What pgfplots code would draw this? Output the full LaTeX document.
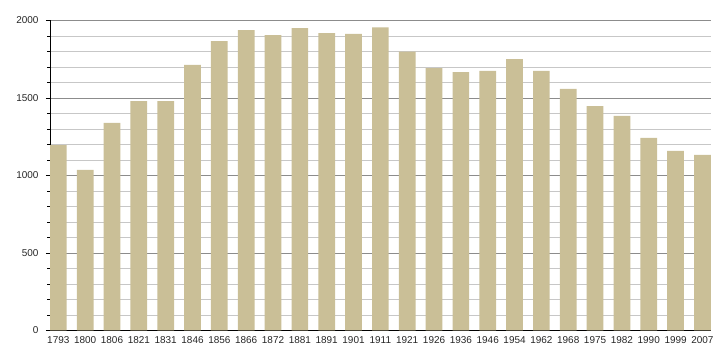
\documentclass[border=0pt]{standalone}
\usepackage{pgfplots}
\pgfplotsset{compat=1.18}
\usepackage{fontspec}
\setmainfont{Liberation Sans}
\definecolor{barc}{RGB}{202,191,151}
\begin{document}
\begin{tikzpicture}
\begin{axis}[
  scale only axis, width=661bp, height=310bp,
  xmin=-0.31, xmax=24.32, ymin=0, ymax=2000,
  axis x line*=bottom, axis y line*=left,
  axis line style={black, line width=0.7pt},
  ytick={0,500,...,2000}, minor ytick={0,100,...,2000},
  ymajorgrids, yminorgrids,
  major grid style={black!45, line width=0.6pt},
  minor grid style={black!22, line width=0.6pt},
  xtick={0,...,24},
  xticklabels={1793,1800,1806,1821,1831,1846,1856,1866,1872,1881,1891,1901,1911,1921,1926,1936,1946,1954,1962,1968,1975,1982,1990,1999,2007},
  x tick style={draw=none},
  y tick style={black, line width=0.6pt},
  tick align=outside, major tick length=4bp, minor tick length=2.5bp,
  tick label style={font=\fontsize{10}{11}\selectfont, text=black!85},
  /pgf/number format/assume math mode=true,
  yticklabel style={/pgf/number format/1000 sep={}, xshift=-4bp},
  xticklabel style={yshift=1bp},
]
\addplot[ybar, bar width=16.7bp, fill=barc, draw=none] coordinates {
(0,1194) (1,1035) (2,1338) (3,1479) (4,1479) (5,1712) (6,1866) (7,1937)
(8,1905) (9,1950) (10,1918) (11,1912) (12,1955) (13,1798) (14,1692) (15,1666)
(16,1673) (17,1750) (18,1673) (19,1557) (20,1447) (21,1383) (22,1241) (23,1157) (24,1131)
};
\end{axis}
\path (current axis.south west) ++(-50bp,-29.7bp) rectangle ++(720bp,360bp);
\end{tikzpicture}
\end{document}
